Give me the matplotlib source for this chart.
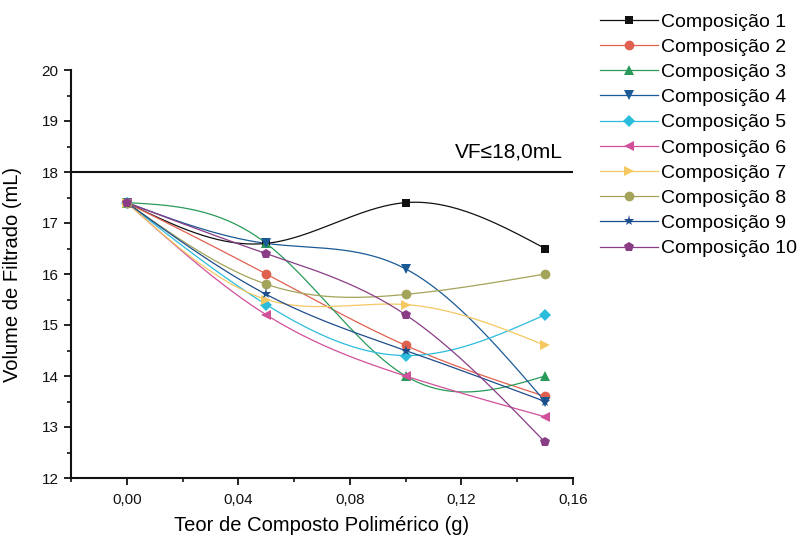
import numpy as np
import matplotlib
matplotlib.use("Agg")
import matplotlib.pyplot as plt
from matplotlib.lines import Line2D
from matplotlib.ticker import MultipleLocator, FuncFormatter

plt.rcParams['font.family'] = ['Liberation Sans', 'DejaVu Sans']

# ---- data ----
teor = [0.00, 0.05, 0.10, 0.15]
comp1 = [17.4, 16.6, 17.4, 16.5]
comp2 = [17.4, 16.0, 14.6, 13.6]
comp3 = [17.4, 16.6, 14.0, 14.0]
comp4 = [17.4, 16.6, 16.1, 13.5]
comp5 = [17.4, 15.4, 14.4, 15.2]
comp6 = [17.4, 15.2, 14.0, 13.2]
comp7 = [17.4, 15.5, 15.4, 14.6]
comp8 = [17.4, 15.8, 15.6, 16.0]
comp9 = [17.4, 15.6, 14.5, 13.5]
comp10 = [17.4, 16.4, 15.2, 12.7]
labels = ["Composição %d" % i for i in range(1, 11)]
limite = 18.0
limite_txt = "VF≤18,0mL"

series = [comp1, comp2, comp3, comp4, comp5, comp6, comp7, comp8, comp9, comp10]
colors = ['#111111', '#E0604F', '#2A9A5A', '#1A5A96', '#2BBCDC',
          '#D0509A', '#F5C862', '#A3A35A', '#1E4D8C', '#8A3C85']
markers = ['s', 'o', '^', 'v', 'D', '<', '>', 'o', '*', 'p']
msizes = [6, 7, 7, 7, 6, 7, 7, 7, 8, 7.5]


def natural_spline(x, y, num=300):
    x = np.asarray(x, float)
    y = np.asarray(y, float)
    n = len(x)
    h = np.diff(x)
    A = np.zeros((n, n))
    r = np.zeros(n)
    A[0, 0] = 1.0
    A[-1, -1] = 1.0
    for i in range(1, n - 1):
        A[i, i - 1] = h[i - 1]
        A[i, i] = 2 * (h[i - 1] + h[i])
        A[i, i + 1] = h[i]
        r[i] = 3 * ((y[i + 1] - y[i]) / h[i] - (y[i] - y[i - 1]) / h[i - 1])
    c = np.linalg.solve(A, r)
    b = (y[1:] - y[:-1]) / h - h * (2 * c[:-1] + c[1:]) / 3
    d = (c[1:] - c[:-1]) / (3 * h)
    xs = np.linspace(x[0], x[-1], num)
    idx = np.clip(np.searchsorted(x, xs, side='right') - 1, 0, n - 2)
    dx = xs - x[idx]
    ys = y[idx] + b[idx] * dx + c[idx] * dx ** 2 + d[idx] * dx ** 3
    return xs, ys


fig = plt.figure(figsize=(8.05, 5.38), dpi=100)
ax = fig.add_axes([71 / 805, 1 - 478 / 538, (573 - 71) / 805, (478 - 70) / 538])

for i, (ys, col, mk, ms) in enumerate(zip(series, colors, markers, msizes)):
    sx, sy = natural_spline(teor, ys)
    ax.plot(sx, sy, color=col, lw=0.9, zorder=2 + i * 0.1)
    ax.plot(teor, ys, linestyle='none', marker=mk, color=col, ms=ms,
            markeredgewidth=0, zorder=3 + i * 0.1, clip_on=False)

ax.axhline(limite, color='#111111', lw=1.5, zorder=1)
ax.text(0.137, 18.29, limite_txt, fontsize=15, ha='center', va='baseline')

ax.set_xlim(-0.02, 0.16)
ax.set_ylim(12, 20)
ax.xaxis.set_major_locator(MultipleLocator(0.04))
ax.xaxis.set_minor_locator(MultipleLocator(0.02))
ax.yaxis.set_major_locator(MultipleLocator(1))
ax.yaxis.set_minor_locator(MultipleLocator(0.5))
ax.set_xticks([0.00, 0.04, 0.08, 0.12, 0.16])
ax.xaxis.set_major_formatter(FuncFormatter(lambda v, p: ("%.2f" % v).replace('.', ',')))
ax.yaxis.set_major_formatter(FuncFormatter(lambda v, p: "%d" % round(v)))

for s in ['top', 'right']:
    ax.spines[s].set_visible(False)
for s in ['left', 'bottom']:
    ax.spines[s].set_linewidth(1.5)
    ax.spines[s].set_color('#111111')

ax.tick_params(axis='both', which='major', direction='out', length=5, width=1.3,
               labelsize=11, colors='#111111')
ax.tick_params(axis='both', which='minor', direction='out', length=3, width=1.2,
               colors='#111111')
ax.tick_params(axis='x', which='major', pad=6)
ax.tick_params(axis='y', which='major', pad=4)

ax.set_xlabel("Teor de Composto Polimérico (g)", fontsize=14.5)
ax.set_ylabel("Volume de Filtrado (mL)", fontsize=14.5)
ax.xaxis.set_label_coords(0.5, -0.094)
ax.yaxis.set_label_coords(-0.098, 0.5)

handles = [Line2D([0], [0], color=c, lw=0.9, marker=m, ms=ms, markeredgewidth=0)
           for c, m, ms in zip(colors, markers, msizes)]
fig.legend(handles, labels, loc='upper left', bbox_to_anchor=(600 / 805, 1 - 13 / 538),
           frameon=False, fontsize=14, handlelength=3.0, handletextpad=0.15,
           labelspacing=0.39, borderpad=0, borderaxespad=0)

fig.savefig("out.png", dpi=100)
